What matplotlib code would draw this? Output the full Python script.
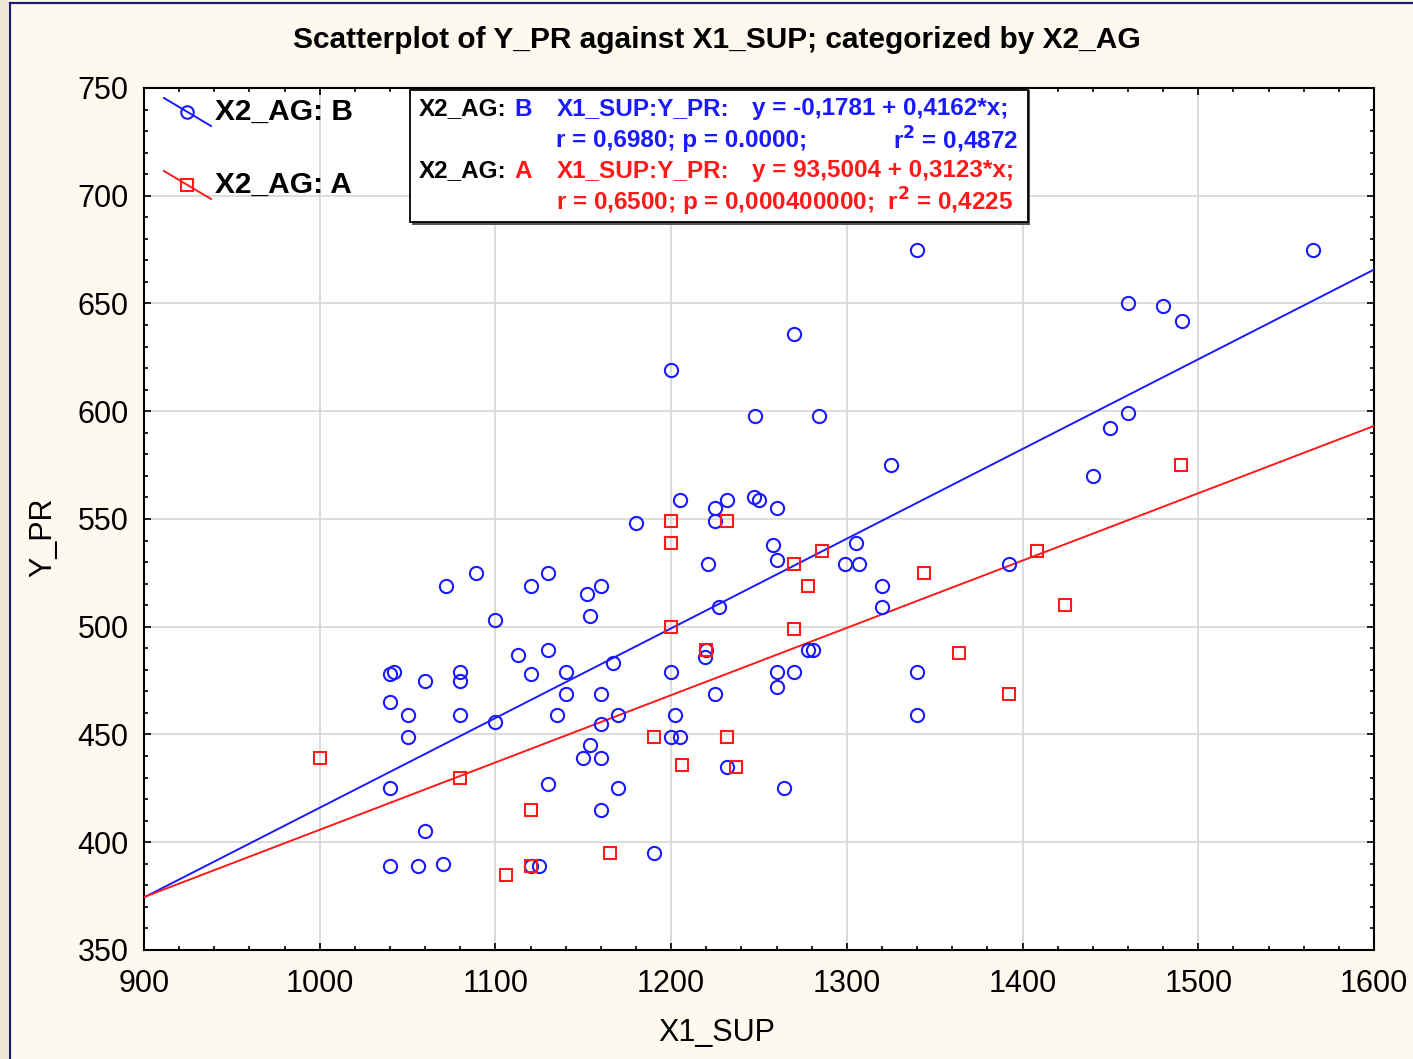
import numpy as np
import matplotlib
matplotlib.use("Agg")
import matplotlib.pyplot as plt
from matplotlib.lines import Line2D
from matplotlib.patches import Rectangle
from matplotlib.ticker import MultipleLocator

plt.rcParams['font.family'] = ['Liberation Sans', 'DejaVu Sans']

# group B (circles)
x_b = [1040, 1042, 1060, 1080, 1080, 1040, 1050, 1080, 1100, 1050, 1040, 1060, 1040, 1056, 1070,
       1072, 1089, 1100, 1113, 1120, 1120, 1130, 1152, 1160, 1154, 1130, 1167, 1140, 1140, 1160,
       1135, 1160, 1170, 1150, 1154, 1160, 1130, 1170, 1160, 1120, 1125, 1190, 1180, 1205, 1225,
       1232, 1247, 1250, 1260, 1225, 1258, 1260, 1221, 1227, 1200, 1219, 1220, 1225, 1202, 1200,
       1205, 1232, 1264, 1260, 1270, 1260, 1278, 1281, 1299, 1305, 1307, 1320, 1320, 1340, 1340,
       1392, 1325, 1440, 1450, 1460, 1460, 1480, 1491, 1565, 1340, 1270, 1200, 1248, 1284]
y_b = [478, 479, 475, 479, 475, 465, 459, 459, 456, 449, 425, 405, 389, 389, 390,
       519, 525, 503, 487, 519, 478, 525, 515, 519, 505, 489, 483, 479, 469, 469,
       459, 455, 459, 439, 445, 439, 427, 425, 415, 389, 389, 395, 548, 559, 555,
       559, 560, 559, 555, 549, 538, 531, 529, 509, 479, 486, 489, 469, 459, 449,
       449, 435, 425, 479, 479, 472, 489, 489, 529, 539, 529, 519, 509, 479, 459,
       529, 575, 570, 592, 599, 650, 649, 642, 675, 675, 636, 619, 598, 598]

# group A (squares)
x_a = [1000, 1080, 1106, 1120, 1120, 1165, 1190, 1200, 1200, 1200, 1206, 1220, 1232, 1232,
       1237, 1270, 1270, 1278, 1286, 1344, 1364, 1392, 1408, 1424, 1490]
y_a = [439, 430, 385, 415, 389, 395, 449, 549, 539, 500, 436, 489, 549, 449,
       435, 529, 499, 519, 535, 525, 488, 469, 535, 510, 575]

# fitted lines y = a + b*x
fit_b = (-0.1781, 0.4162)
fit_a = (93.5004, 0.3123)

W, H = 1413, 1059
def fx(px):
    return px / W
def fy(py):
    return 1 - py / H

BLUE = '#1a1aff'
RED = '#ff1a1a'

fig = plt.figure(figsize=(W / 100, H / 100), dpi=100)
fig.patch.set_facecolor('#fdf9ef')
fig.add_artist(Rectangle((0, 0), fx(8), 1, transform=fig.transFigure,
                         facecolor='#eee5d5', edgecolor='none'))
fig.add_artist(Line2D([fx(9.5), fx(9.5)], [0, fy(3)], transform=fig.transFigure,
                      color='#1c1c70', lw=1.6))
fig.add_artist(Line2D([fx(9.5), 1], [fy(3), fy(3)], transform=fig.transFigure,
                      color='#1c1c70', lw=1.6))

ax = fig.add_axes([fx(144), fy(950), fx(1374) - fx(144), fy(88) - fy(950)])
ax.set_facecolor('white')

xs = np.array([900, 1600])
ax.plot(xs, fit_b[0] + fit_b[1] * xs, color=BLUE, lw=1.4, zorder=3)
ax.plot(xs, fit_a[0] + fit_a[1] * xs, color=RED, lw=1.4, zorder=3)
ax.plot(x_b, y_b, 'o', ms=9.5, mfc='none', mec=BLUE, mew=1.5, zorder=4)
ax.plot(x_a, y_a, 's', ms=9, mfc='none', mec=RED, mew=1.5, zorder=4)

ax.set_xlim(900, 1600)
ax.set_ylim(350, 750)
ax.xaxis.set_major_locator(MultipleLocator(100))
ax.xaxis.set_minor_locator(MultipleLocator(20))
ax.yaxis.set_major_locator(MultipleLocator(50))
ax.yaxis.set_minor_locator(MultipleLocator(10))
ax.tick_params(which='both', direction='in', top=True, right=True, width=1.2,
               labelsize=22)
ax.tick_params(axis='x', pad=14)
ax.tick_params(axis='y', pad=11)
ax.tick_params(which='major', length=5)
ax.tick_params(which='minor', length=3)
for s in ax.spines.values():
    s.set_linewidth(1.5)
ax.grid(True, which='major', color='#d9d9d9', lw=1.3)
ax.set_axisbelow(True)

fig.text(fx(717), fy(40), 'Scatterplot of Y_PR against X1_SUP; categorized by X2_AG',
         ha='center', va='center', fontsize=21.5, fontweight='bold')
fig.text(fx(717), fy(1033), 'X1_SUP', ha='center', va='center', fontsize=22)
fig.text(fx(43), fy(537), 'Y_PR', ha='center', va='center', fontsize=22, rotation=90)

# legend with slanted sample lines
for yc, col, mk, lab in [(112, BLUE, 'o', 'X2_AG: B'), (185, RED, 's', 'X2_AG: A')]:
    fig.add_artist(Line2D([fx(164), fx(211)], [fy(yc - 14), fy(yc + 14)],
                          transform=fig.transFigure, color=col, lw=1.4))
    fig.add_artist(Line2D([fx(187)], [fy(yc)], transform=fig.transFigure, marker=mk,
                          ms=9 if mk == 'o' else 8.5, mfc='none', mec=col, mew=1.5))
    fig.text(fx(215), fy(yc), lab, ha='left', va='center', fontsize=21.5, fontweight='bold')

# stats box
fig.add_artist(Rectangle((fx(412), fy(225)), fx(618), 135 / H, transform=fig.transFigure,
                         facecolor='#555555', edgecolor='none', zorder=5))
fig.add_artist(Rectangle((fx(410), fy(222)), fx(618), 132 / H, transform=fig.transFigure,
                         facecolor='white', edgecolor='black', lw=1.3, zorder=6))
fs = 17.5
def t(px, py, s, c, ha='left'):
    fig.text(fx(px), fy(py), s, color=c, ha=ha, va='center', fontsize=fs,
             fontweight='bold', zorder=7)
t(419, 109, 'X2_AG:', 'black')
t(514, 109, 'B', BLUE)
t(557, 109, 'X1_SUP:Y_PR:', BLUE)
t(752, 109, 'y = -0,1781 + 0,4162*x;', BLUE)
t(556, 140, 'r = 0,6980; p = 0.0000;', BLUE)
t(1018, 140, 'r$^\\mathbf{2}$ = 0,4872', BLUE, ha='right')
t(419, 171, 'X2_AG:', 'black')
t(514, 171, 'A', RED)
t(557, 171, 'X1_SUP:Y_PR:', RED)
t(752, 171, 'y = 93,5004 + 0,3123*x;', RED)
t(556, 202, 'r = 0,6500; p = 0,000400000;  r$^\\mathbf{2}$ = 0,4225', RED)

fig.savefig('out.png', dpi=100, facecolor=fig.get_facecolor())
